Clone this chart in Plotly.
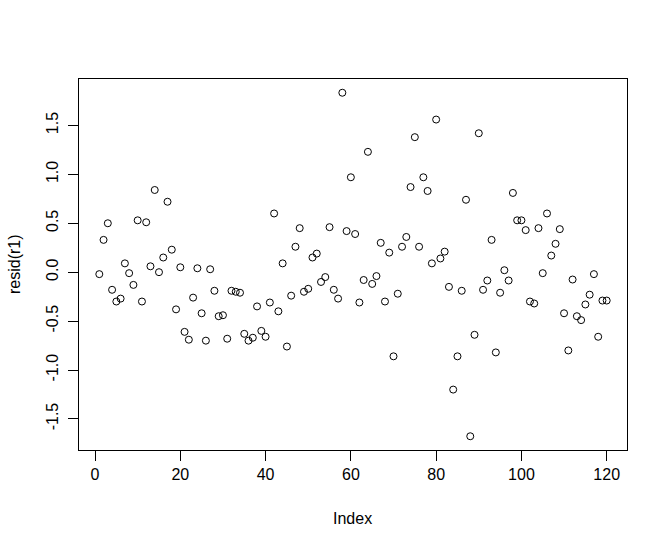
import plotly.graph_objects as go

index = list(range(1, 121))
resid = [
    -0.02, 0.33, 0.50, -0.18, -0.30, -0.27, 0.09, -0.01, -0.13, 0.53,
    -0.30, 0.51, 0.06, 0.84, 0.00, 0.15, 0.72, 0.23, -0.38, 0.05,
    -0.61, -0.69, -0.26, 0.04, -0.42, -0.70, 0.03, -0.19, -0.45, -0.44,
    -0.68, -0.19, -0.20, -0.21, -0.63, -0.70, -0.67, -0.35, -0.60, -0.66,
    -0.31, 0.60, -0.40, 0.09, -0.76, -0.24, 0.26, 0.45, -0.20, -0.17,
    0.15, 0.19, -0.10, -0.05, 0.46, -0.18, -0.27, 1.834, 0.42, 0.97,
    0.39, -0.31, -0.08, 1.23, -0.12, -0.04, 0.30, -0.30, 0.20, -0.86,
    -0.22, 0.26, 0.36, 0.87, 1.38, 0.26, 0.97, 0.83, 0.09, 1.56,
    0.14, 0.21, -0.15, -1.20, -0.86, -0.19, 0.74, -1.677, -0.64, 1.42,
    -0.18, -0.085, 0.33, -0.82, -0.21, 0.02, -0.085, 0.81, 0.53, 0.53,
    0.43, -0.30, -0.32, 0.45, -0.01, 0.60, 0.17, 0.29, 0.44, -0.42,
    -0.80, -0.075, -0.45, -0.49, -0.33, -0.23, -0.02, -0.66, -0.29, -0.29,
]

x_ticks = [0, 20, 40, 60, 80, 100, 120]
y_ticks = [-1.5, -1.0, -0.5, 0.0, 0.5, 1.0, 1.5]
y_tick_labels = ["-1.5", "-1.0", "-0.5", "0.0", "0.5", "1.0", "1.5"]

x_lo, x_hi = min(index), max(index)
x_pad = (x_hi - x_lo) * 0.04
y_lo, y_hi = min(resid), max(resid)
y_pad = (y_hi - y_lo) * 0.04

font = dict(family="Liberation Sans, Arial, sans-serif", size=16, color="black")

fig = go.Figure(
    go.Scatter(
        x=index, y=resid, mode="markers",
        marker=dict(symbol="circle-open", size=7, color="black",
                    line=dict(width=1, color="black")),
        hoverinfo="x+y",
    )
)

W, H = 667, 548
L, T = 79, 79
pw, ph = 548, 371
R, B = W - L - pw, H - T - ph

fig.update_layout(
    width=W, height=H,
    margin=dict(l=L, r=R, t=T, b=B, pad=0),
    paper_bgcolor="white", plot_bgcolor="white",
    font=font, showlegend=False,
    xaxis=dict(
        range=[x_lo - x_pad, x_hi + x_pad], tickvals=x_ticks,
        ticktext=[str(v) for v in x_ticks],
        ticks="outside", ticklen=10, tickwidth=1, tickcolor="black",
        showline=True, mirror=True, linecolor="black", linewidth=1,
        showgrid=False, zeroline=False, automargin=False, tickfont=font,
    ),
    yaxis=dict(
        range=[y_lo - y_pad, y_hi + y_pad], tickvals=y_ticks,
        ticktext=y_tick_labels, tickangle=-90, ticklabelstandoff=4,
        ticks="outside", ticklen=10, tickwidth=1, tickcolor="black",
        showline=True, mirror=True, linecolor="black", linewidth=1,
        showgrid=False, zeroline=False, automargin=False, tickfont=font,
    ),
    annotations=[
        dict(text="Index", xref="paper", yref="paper",
             x=(352.7 - L) / pw, y=(T + ph - 518) / ph,
             xanchor="center", yanchor="middle", showarrow=False, font=font),
        dict(text="resid(r1)", xref="paper", yref="paper",
             x=(14.5 - L) / pw, y=(T + ph - 264.5) / ph, textangle=-90,
             xanchor="center", yanchor="middle", showarrow=False, font=font),
    ],
)

fig.write_html(
    "out.html",
    config={"displayModeBar": False},
    post_script="document.body.style.margin='0';document.body.style.padding='0';",
)
